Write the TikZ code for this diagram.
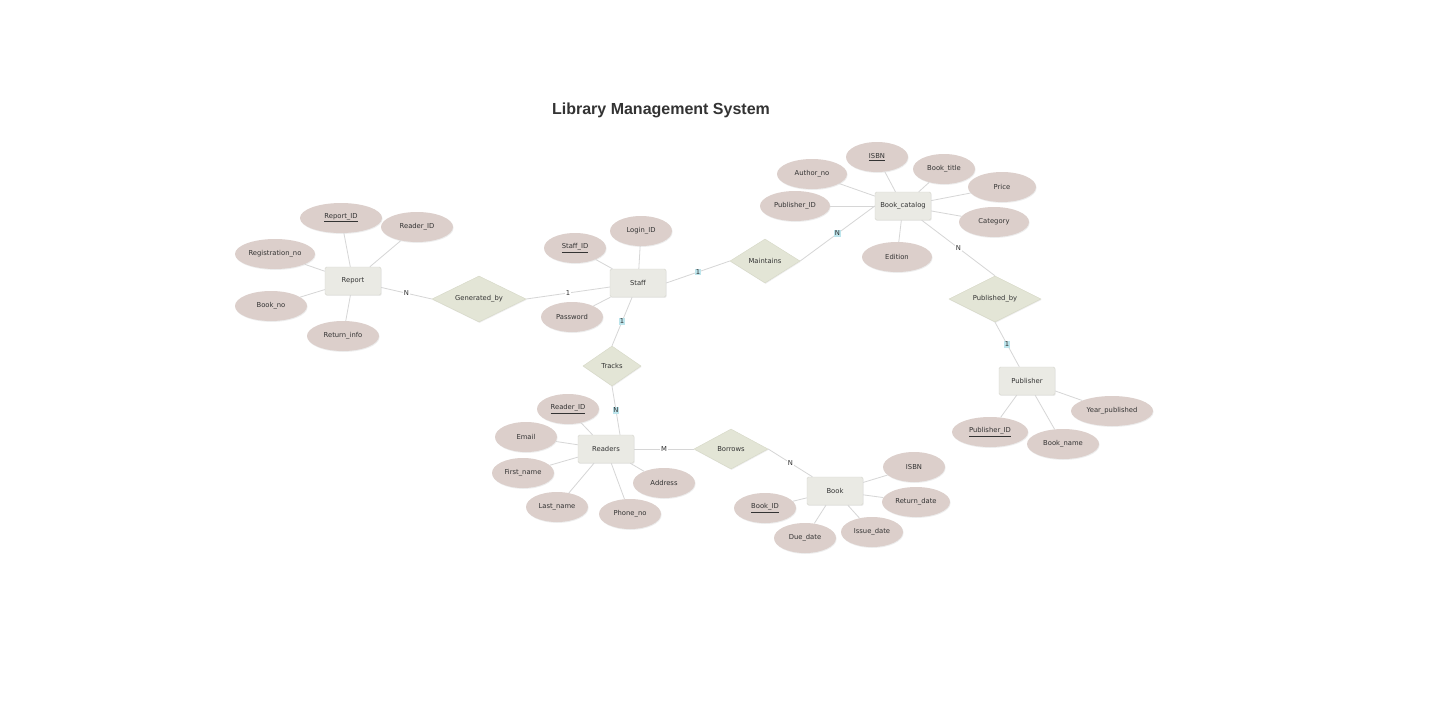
\documentclass[tikz,border=0pt]{standalone}
\usepackage{fontspec}
\setmainfont{DejaVu Sans}
\newfontfamily\titlefont{Liberation Sans}
\usetikzlibrary{shapes.geometric}
\usetikzlibrary{positioning,calc,shadows}
\definecolor{attrfill}{HTML}{DCCFCB}
\definecolor{entfill}{HTML}{EAEAE4}
\definecolor{entline}{HTML}{D6D6CE}
\definecolor{relfill}{HTML}{E3E5D6}
\definecolor{relline}{HTML}{D6D8C6}
\definecolor{linkgray}{HTML}{D6D6D6}
\definecolor{textgray}{HTML}{333333}
\definecolor{cardblue}{HTML}{BDE5EC}
\tikzset{
  every node/.style={font=\fontsize{6.8}{8}\selectfont, text=textgray},
  softshadow/.style={drop shadow={shadow xshift=0.6pt, shadow yshift=-0.9pt, opacity=0.14}},
  entity/.style={rectangle, draw=entline, fill=entfill, rounded corners=1.5pt, minimum width=56pt, minimum height=28pt, softshadow},
  attr/.style={ellipse, fill=attrfill, minimum height=30pt, inner sep=0pt, softshadow},
  rel/.style={diamond, draw=relline, fill=relfill, aspect=2, inner sep=0pt, softshadow},
  card/.style={fill=white, inner sep=1pt},
  hicard/.style={fill=cardblue, inner sep=0.8pt},
  link/.style={draw=linkgray, line width=0.8pt}
}

\begin{document}
\begin{tikzpicture}[x=1pt, y=-1pt]
    \useasboundingbox[fill=white] (0, 0) rectangle (1440, 720);
    \node at (661, 110) [font=\titlefont\bfseries\fontsize{16}{19}\selectfont] (title) {Library Management System};

    % entities
    \node at (353, 281) [entity] (Report) {Report};
    \node at (638, 283) [entity] (Staff) {Staff};
    \node at (903, 206) [entity] (BookCatalog) {Book\_catalog};
    \node at (1027, 381) [entity] (Publisher) {Publisher};
    \node at (606, 449) [entity] (Readers) {Readers};
    \node at (835, 491) [entity] (Book) {Book};

    % relationships
    \node at (479, 299) [rel, minimum width=94, minimum height=46] (GeneratedBy) {Generated\_by};
    \node at (765, 261) [rel, minimum width=70, minimum height=44] (Maintains) {Maintains};
    \node at (995, 299) [rel, minimum width=92, minimum height=46] (PublishedBy) {Published\_by};
    \node at (612, 366) [rel, minimum width=58, minimum height=40] (Tracks) {Tracks};
    \node at (731, 449) [rel, minimum width=74, minimum height=40] (Borrows) {Borrows};

    % attributes of Report
    \node at (341, 218) [attr, minimum width=82] (RepID) {\underline{Report\_ID}};
    \node at (417, 227) [attr, minimum width=72] (RepReader) {Reader\_ID};
    \node at (275, 254) [attr, minimum width=80] (RepReg) {Registration\_no};
    \node at (271, 306) [attr, minimum width=72] (RepBook) {Book\_no};
    \node at (343, 336) [attr, minimum width=72] (RepReturn) {Return\_info};

    % attributes of Staff
    \node at (575, 248) [attr, minimum width=62] (StfID) {\underline{Staff\_ID}};
    \node at (641, 231) [attr, minimum width=62] (StfLogin) {Login\_ID};
    \node at (572, 317) [attr, minimum width=62] (StfPass) {Password};

    % attributes of Book_catalog
    \node at (877, 157) [attr, minimum width=62] (CatISBN) {\underline{ISBN}};
    \node at (812, 174) [attr, minimum width=70] (CatAuthor) {Author\_no};
    \node at (944, 169) [attr, minimum width=62] (CatTitle) {Book\_title};
    \node at (1002, 187) [attr, minimum width=68] (CatPrice) {Price};
    \node at (795, 206) [attr, minimum width=70] (CatPub) {Publisher\_ID};
    \node at (994, 222) [attr, minimum width=70] (CatCategory) {Category};
    \node at (897, 257) [attr, minimum width=70] (CatEdition) {Edition};

    % attributes of Publisher
    \node at (990, 432) [attr, minimum width=76] (PubID) {\underline{Publisher\_ID}};
    \node at (1063, 444) [attr, minimum width=72] (PubName) {Book\_name};
    \node at (1112, 411) [attr, minimum width=82] (PubYear) {Year\_published};

    % attributes of Readers
    \node at (568, 409) [attr, minimum width=62] (RdrID) {\underline{Reader\_ID}};
    \node at (526, 437) [attr, minimum width=62] (RdrEmail) {Email};
    \node at (523, 473) [attr, minimum width=62] (RdrFirst) {First\_name};
    \node at (557, 507) [attr, minimum width=62] (RdrLast) {Last\_name};
    \node at (630, 514) [attr, minimum width=62] (RdrPhone) {Phone\_no};
    \node at (664, 483) [attr, minimum width=62] (RdrAddress) {Address};

    % attributes of Book
    \node at (914, 467) [attr, minimum width=62] (BkISBN) {ISBN};
    \node at (916, 502) [attr, minimum width=68] (BkReturn) {Return\_date};
    \node at (872, 532) [attr, minimum width=62] (BkIssue) {Issue\_date};
    \node at (805, 538) [attr, minimum width=62] (BkDue) {Due\_date};
    \node at (765, 508) [attr, minimum width=62] (BkID) {\underline{Book\_ID}};

    \path[link]
    (RepID) edge (Report)
    (RepReader) edge (Report)
    (RepReg) edge (Report)
    (RepBook) edge (Report)
    (RepReturn) edge (Report)

    (StfID) edge (Staff)
    (StfLogin) edge (Staff)
    (StfPass) edge (Staff)

    (CatISBN) edge (BookCatalog)
    (CatAuthor) edge (BookCatalog)
    (CatTitle) edge (BookCatalog)
    (CatPrice) edge (BookCatalog)
    (CatPub) edge (BookCatalog)
    (CatCategory) edge (BookCatalog)
    (CatEdition) edge (BookCatalog)

    (PubID) edge (Publisher)
    (PubName) edge (Publisher)
    (PubYear) edge (Publisher)

    (RdrID) edge (Readers)
    (RdrEmail) edge (Readers)
    (RdrFirst) edge (Readers)
    (RdrLast) edge (Readers)
    (RdrPhone) edge (Readers)
    (RdrAddress) edge (Readers)

    (BkISBN) edge (Book)
    (BkReturn) edge (Book)
    (BkIssue) edge (Book)
    (BkDue) edge (Book)
    (BkID) edge (Book);

    % relationships with cardinalities
    \path[link]
    (Report) edge node [card] {N} (GeneratedBy.west)
    (GeneratedBy.east) edge node [card] {1} (Staff)
    (Staff.east) edge node [hicard] {1} (Maintains.west)
    (Maintains.east) edge node [hicard] {N} (BookCatalog.west)
    (BookCatalog) edge node [card] {N} (PublishedBy.north)
    (PublishedBy.south) edge node [hicard] {1} (Publisher)
    (Staff) edge node [hicard] {1} (Tracks.north)
    (Tracks.south) edge node [hicard] {N} ([xshift=14pt]Readers.north)
    (Readers) edge node [card] {M} (Borrows.west)
    (Borrows.east) edge node [card] {N} (Book);
\end{tikzpicture}
\end{document}
